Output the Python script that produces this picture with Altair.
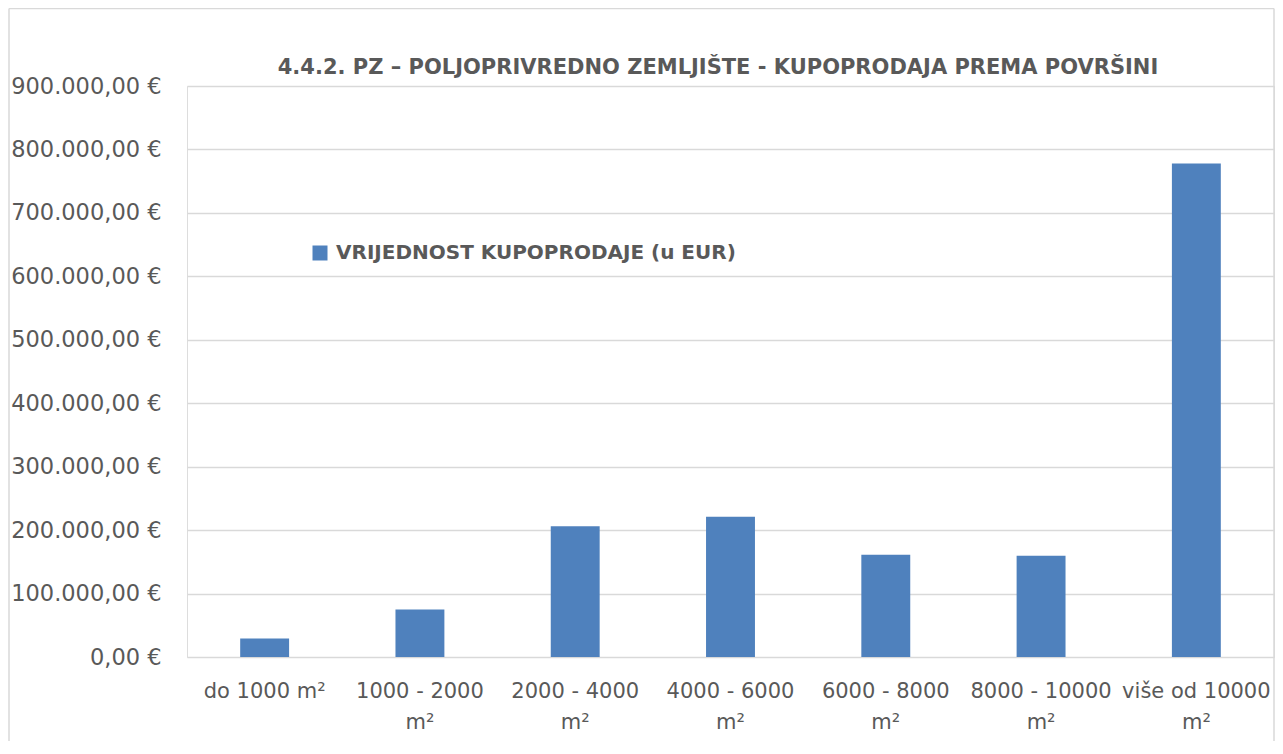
import altair as alt
import pandas as pd

categories = ["do 1000 m²", "1000 - 2000 m²", "2000 - 4000 m²", "4000 - 6000 m²",
              "6000 - 8000 m²", "8000 - 10000 m²", "više od 10000 m²"]
values = [29000, 75000, 206000, 221000, 161000, 159500, 778000]
series_name = "VRIJEDNOST KUPOPRODAJE (u EUR)"
y_ticks = [0, 100000, 200000, 300000, 400000, 500000, 600000, 700000, 800000, 900000]
title_text = "4.4.2. PZ – POLJOPRIVREDNO ZEMLJIŠTE - KUPOPRODAJA PREMA POVRŠINI"

df = pd.DataFrame({"cat": categories, "val": values, "series": [series_name] * len(categories)})

FONT = "DejaVu Sans"
GREY = "#595959"
W, H = 1087, 571

bars = alt.Chart(df).mark_bar(color="#4F81BD").encode(
    x=alt.X("cat:N", sort=categories, title=None,
            scale=alt.Scale(paddingInner=0.685, paddingOuter=0.3425),
            axis=alt.Axis(labelAngle=0, domain=False, ticks=False, labelFontSize=21,
                          labelColor=GREY, labelFont=FONT, labelPadding=23,
                          labelLineHeight=31, labelBaseline="top", labelLimit=0,
                          labelExpr="length(datum.label) > 11 ? [replace(datum.label, ' m²', ''), 'm²'] : datum.label")),
    y=alt.Y("val:Q", title=None, scale=alt.Scale(domain=[0, 900000], nice=False),
            axis=alt.Axis(values=y_ticks, domain=False, ticks=False, labelFontSize=22.5,
                          labelColor=GREY, labelFont=FONT, labelPadding=26, labelLimit=0,
                          gridColor="#d9d9d9", gridWidth=1.3,
                          labelExpr="replace(replace(replace(format(datum.value, ',.2f'), /,/g, '_'), '.', ','), /_/g, '.') + ' €'")),
    color=alt.Color("series:N", scale=alt.Scale(range=["#4F81BD"]),
                    legend=alt.Legend(title=None, orient="none", legendX=123, legendY=157,
                                      symbolType="square", symbolSize=225, symbolStrokeWidth=0,
                                      labelFontSize=20, labelFont=FONT, labelFontWeight="bold",
                                      labelColor=GREY, labelOffset=6, labelLimit=0)),
)

title_df = pd.DataFrame({"t": [title_text]})
title = alt.Chart(title_df).mark_text(font=FONT, fontSize=21, fontWeight="bold", color=GREY,
                                      align="center", baseline="alphabetic").encode(
    text="t:N", x=alt.value(531), y=alt.value(-12))

border_df = pd.DataFrame({"k": ["a"]})
left = alt.Chart(border_df).mark_rule(color="#d9d9d9", strokeWidth=1.5).encode(
    x=alt.value(-178), y=alt.value(-77.5), y2=alt.value(H + 90))
right = alt.Chart(border_df).mark_rule(color="#d9d9d9", strokeWidth=1.5).encode(
    x=alt.value(1087), y=alt.value(-77.5), y2=alt.value(H + 90))
top = alt.Chart(border_df).mark_rule(color="#d9d9d9", strokeWidth=1.5).encode(
    x=alt.value(-178), x2=alt.value(1087), y=alt.value(-77.5))

chart = alt.layer(bars, title, left, right, top).properties(
    width=W, height=H,
    autosize=alt.AutoSizeParams(type="none"),
    padding={"left": 179, "top": 78, "right": 1, "bottom": 84},
).configure_view(stroke=None).configure(background="white")

chart.save("out.html", embed_options={"renderer": "svg", "actions": False})
